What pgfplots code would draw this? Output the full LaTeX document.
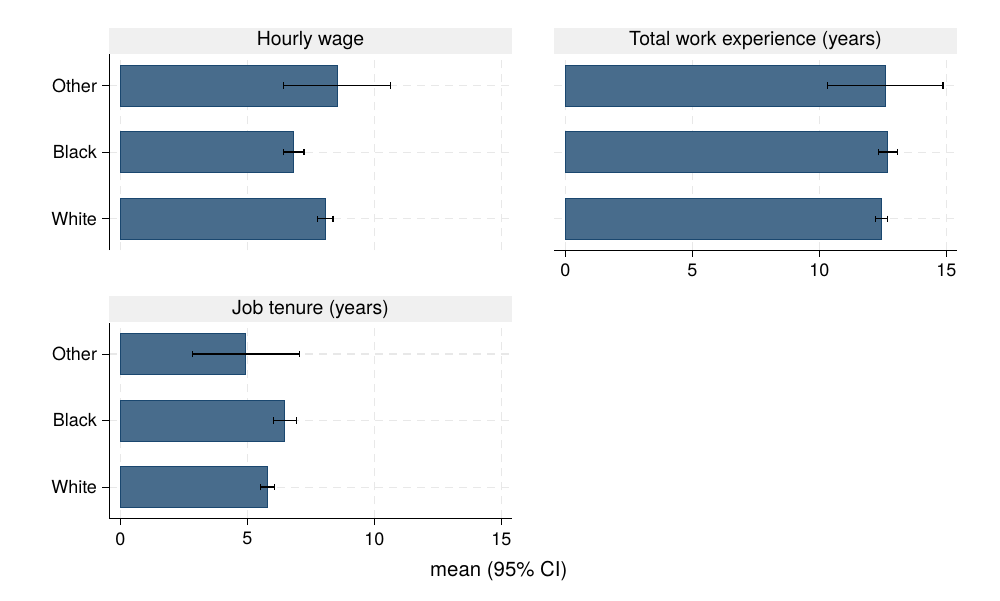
\documentclass[border=0pt]{standalone}
\usepackage{fontspec}
\setmainfont{TeX Gyre Heros}
\usepackage{pgfplots}
\pgfplotsset{compat=1.18}
\definecolor{barfill}{RGB}{72,108,140}
\definecolor{navy}{RGB}{26,71,111}
\definecolor{titlegray}{RGB}{240,240,240}
\definecolor{gridgray}{RGB}{232,232,232}
\pgfplotsset{
  panel/.style={
    scale only axis, width=201.5pt, height=97.85pt, anchor=north west,
    xmin=-0.45, xmax=15.42, ymin=0.53, ymax=3.47,
    xtick={0,5,10,15}, xticklabels={0,5,10,15},
    ytick={1,2,3}, yticklabels={White,Black,Other},
    grid=major,
    grid style={dash pattern=on 4pt off 3pt, color=gridgray, line width=0.6pt},
    tick align=outside, major tick length=3.4pt,
    tick style={black, line width=0.45pt},
    axis line style={black, line width=0.5pt},
    ticklabel style={font=\fontsize{9}{10}\selectfont},
    yticklabel style={inner sep=2.4pt},
    every axis title shift=0pt,
    title style={at={(0.5,1)}, anchor=south, fill=titlegray,
      minimum width=201.5pt, minimum height=13pt, inner sep=0pt,
      font=\fontsize{9.7}{10}\selectfont},
    clip=false,
  },
  bars/.style={xbar, bar width=20.5pt, fill=barfill, draw=navy, line width=0.5pt,
    error bars/.cd, x dir=both, x explicit,
    error bar style={black, line width=0.7pt},
    error mark options={black, rotate=90, mark size=1.6pt, line width=0.7pt}},
}
\begin{document}
\begin{tikzpicture}
\fill[white] (0,0) rectangle (500pt,-300pt);
\path[use as bounding box] (0,0) rectangle (500pt,-300pt);

% Hourly wage
\begin{axis}[panel, at={(54.5pt,-27.15pt)}, title={Hourly wage},
  axis lines*=left, x axis line style={draw=none}, xticklabels={},
  xtick style={draw=none}]
\addplot[bars] coordinates {
  (8.07,1) +- (0.30,0)
  (6.82,2) +- (0.41,0)
  (8.53,3) +- (2.11,0)
};
\end{axis}

% Total work experience
\begin{axis}[panel, at={(277pt,-27.15pt)}, title={Total work experience (years)},
  axis lines*=left, y axis line style={draw=none}, yticklabels={},
  ytick style={draw=none}]
\addplot[bars] coordinates {
  (12.44,1) +- (0.24,0)
  (12.70,2) +- (0.37,0)
  (12.59,3) +- (2.28,0)
};
\end{axis}

% Job tenure
\begin{axis}[panel, at={(54.5pt,-161.35pt)}, title={Job tenure (years)},
  axis lines*=left]
\addplot[bars] coordinates {
  (5.79,1) +- (0.27,0)
  (6.48,2) +- (0.46,0)
  (4.94,3) +- (2.11,0)
};
\end{axis}

\node[anchor=base, font=\fontsize{10.2}{11}\selectfont] at (249.4pt,-288pt) {mean (95\% CI)};
\end{tikzpicture}
\end{document}
